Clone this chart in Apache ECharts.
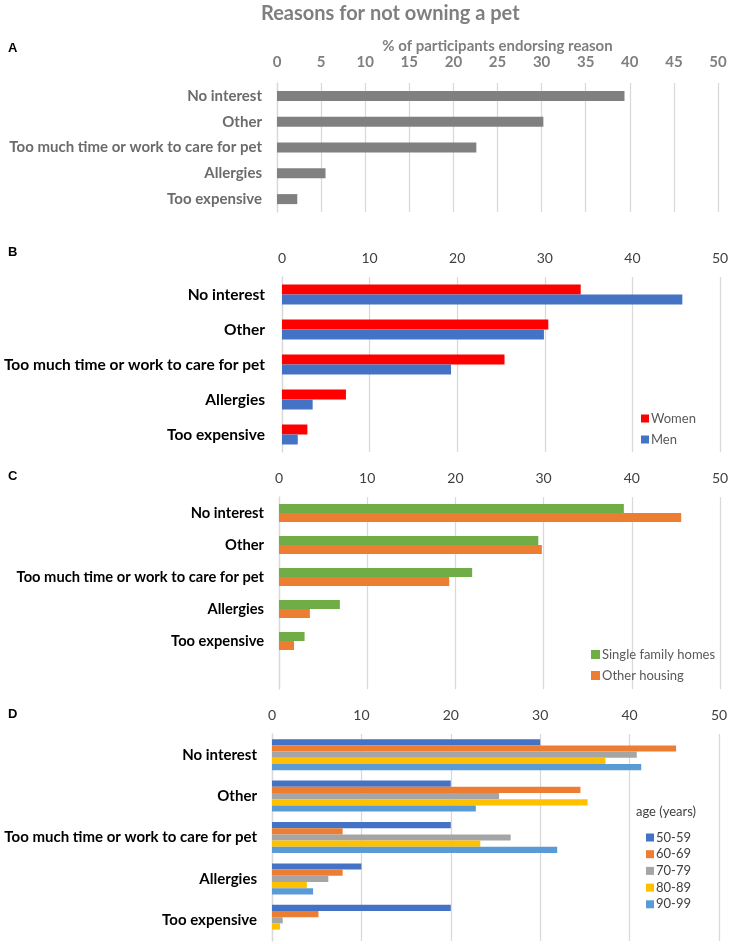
<!DOCTYPE html>
<html>
<head>
<meta charset="utf-8">
<script src="https://cdn.jsdelivr.net/npm/echarts@6/dist/echarts.min.js"></script>
<style>
html,body{margin:0;padding:0;background:#fff;}
#chart{width:732px;height:944px;}
</style>
</head>
<body>
<div id="chart"></div>
<script>
// ---- data ----
const categories = ['No interest', 'Other', 'Too much time or work to care for pet', 'Allergies', 'Too expensive'];
const allValues = [39.4, 30.2, 22.6, 5.5, 2.3];
const women = [34.1, 30.4, 25.4, 7.3, 2.9];
const men = [45.7, 29.9, 19.3, 3.5, 1.8];
const singleFamily = [39.1, 29.4, 21.9, 6.9, 2.9];
const otherHousing = [45.6, 29.8, 19.3, 3.5, 1.7];
const age5059 = [30, 20, 20, 10, 20];
const age6069 = [45.2, 34.5, 7.9, 7.9, 5.2];
const age7079 = [40.8, 25.4, 26.7, 6.3, 1.2];
const age8089 = [37.3, 35.3, 23.3, 3.9, 0.9];
const age9099 = [41.3, 22.8, 31.9, 4.6, 0];
const ageGroups = ['50-59', '60-69', '70-79', '80-89', '90-99'];
const ticksA = [0, 5, 10, 15, 20, 25, 30, 35, 40, 45, 50];
const ticksBCD = [0, 10, 20, 30, 40, 50];

const FONT = 'Lato';
const grid = '#d9d9d9';

function xAx(idx, interval, labelStyle, extra) {
  return Object.assign({
    gridIndex: idx, type: 'value', position: 'top', min: 0, max: 50, interval: interval,
    axisLine: {show: false}, axisTick: {show: false},
    splitLine: {show: true, lineStyle: {color: grid, width: 1.3}},
    axisLabel: Object.assign({fontFamily: FONT, margin: 12}, labelStyle)
  }, extra || {});
}
function yAx(idx, cats, labelStyle) {
  return {
    gridIndex: idx, type: 'category', data: cats, inverse: true,
    axisLine: {show: true, lineStyle: {color: grid, width: 1.3}}, axisTick: {show: false},
    axisLabel: Object.assign({fontFamily: FONT, fontWeight: 'bold', margin: 15, color: '#000'}, labelStyle)
  };
}
function bar(name, data, color, xi, bw) {
  return {name: name, type: 'bar', xAxisIndex: xi, yAxisIndex: xi, data: data,
    barWidth: bw, barGap: '0%', itemStyle: {color: color}, animation: false};
}

const catsC = categories.concat(['']);
const option = {
  animation: false,
  title: {text: 'Reasons for not owning a pet', left: 256, top: -1,
    textStyle: {fontFamily: FONT, fontWeight: 'bold', fontSize: 20, color: '#7f7f7f'}},
  graphic: [
    {type: 'text', left: 8, top: 42, style: {text: 'A', font: 'bold 13px "Liberation Sans"', fill: '#000'}},
    {type: 'text', left: 8, top: 246, style: {text: 'B', font: 'bold 13px "Liberation Sans"', fill: '#000'}},
    {type: 'text', left: 8, top: 470, style: {text: 'C', font: 'bold 13px "Liberation Sans"', fill: '#000'}},
    {type: 'text', left: 8, top: 708, style: {text: 'D', font: 'bold 13px "Liberation Sans"', fill: '#000'}},
    {type: 'text', left: 636, top: 805, style: {text: 'age (years)', font: '13px Lato', fill: '#404040'}}
  ],
  grid: [
    {left: 277, right: 14, top: 83, height: 129},
    {left: 282, right: 12, top: 277, height: 175},
    {left: 279, right: 12, top: 497, height: 192},
    {left: 272, right: 13, top: 734, height: 207}
  ],
  xAxis: [
    xAx(0, 5, {color: '#7f7f7f', fontSize: 15, fontWeight: 'bold', margin: 13},
      {name: '% of participants endorsing reason', nameLocation: 'middle', nameGap: 29,
       nameTextStyle: {fontFamily: FONT, fontWeight: 'bold', fontSize: 15, color: '#7f7f7f'}}),
    xAx(1, 10, {color: '#404040', fontSize: 14}),
    xAx(2, 10, {color: '#404040', fontSize: 14}),
    xAx(3, 10, {color: '#404040', fontSize: 14})
  ],
  yAxis: [
    yAx(0, categories, {color: '#6b6b6b', fontSize: 15}),
    yAx(1, categories, {fontSize: 15.5, margin: 17}),
    yAx(2, catsC, {fontSize: 14.7}),
    yAx(3, categories, {fontSize: 15})
  ],
  legend: [
    {data: ['Women', 'Men'], orient: 'vertical', left: 636, top: 407, itemWidth: 8, itemHeight: 8, itemGap: 8,
      icon: 'rect', textStyle: {fontFamily: FONT, fontSize: 13, color: '#595959', padding: [0, 0, 0, -3]}},
    {data: ['Single family homes', 'Other housing'], orient: 'vertical', left: 586, top: 643, itemWidth: 9, itemHeight: 9, itemGap: 8,
      icon: 'rect', textStyle: {fontFamily: FONT, fontSize: 13, color: '#595959', padding: [0, 0, 0, -3]}},
    {data: ageGroups, orient: 'vertical', left: 641, top: 826, itemWidth: 8, itemHeight: 8, itemGap: 3.7,
      icon: 'rect', textStyle: {fontFamily: FONT, fontSize: 13, color: '#404040', padding: [0, 0, 0, -3]}}
  ],
  series: [
    bar('All', allValues, '#808080', 0, 10),
    bar('Women', women, '#ff0000', 1, 10),
    bar('Men', men, '#4472c4', 1, 10),
    bar('Single family homes', singleFamily, '#70ad47', 2, 9),
    bar('Other housing', otherHousing, '#ed7d31', 2, 9),
    bar('50-59', age5059, '#4472c4', 3, 6.2),
    bar('60-69', age6069, '#ed7d31', 3, 6.2),
    bar('70-79', age7079, '#a5a5a5', 3, 6.2),
    bar('80-89', age8089, '#ffc000', 3, 6.2),
    bar('90-99', age9099, '#5b9bd5', 3, 6.2)
  ]
};
const chart = echarts.init(document.getElementById('chart'), null, {renderer: 'canvas'});
chart.setOption(option);
</script>
</body>
</html>
